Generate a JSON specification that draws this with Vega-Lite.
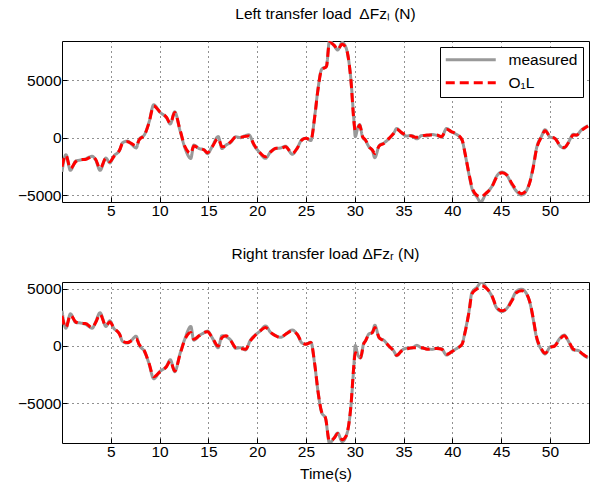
{
  "$schema": "https://vega.github.io/schema/vega-lite/v6.json",
  "padding": {"left": 5, "top": 6, "right": 2, "bottom": 4},
  "background": "white",
  "spacing": 27,
  "config": {
    "font": "Liberation Sans",
    "view": {"stroke": "black", "strokeWidth": 1},
    "axis": {
      "labelFont": "Liberation Sans",
      "labelFontSize": 15.5,
      "labelColor": "black",
      "titleFont": "Liberation Sans",
      "titleFontSize": 15.5,
      "titleFontWeight": "normal",
      "titleColor": "black",
      "domain": false,
      "ticks": true,
      "tickSize": -5,
      "tickColor": "black",
      "tickWidth": 1,
      "labelPadding": 6,
      "grid": true,
      "gridColor": "#222222",
      "gridDash": [1, 4],
      "gridWidth": 1
    },
    "title": {"font": "Liberation Sans", "fontSize": 15.5, "fontWeight": "normal", "color": "black", "anchor": "middle", "baseline": "alphabetic", "offset": 19}
  },
  "datasets": {
    "left": [
      {"t":0,"measured":-2980,"O1L":-2540},
      {"t":0.4,"measured":-1480,"O1L":-1520},
      {"t":0.86,"measured":-2850,"O1L":-2690},
      {"t":1.4,"measured":-2050,"O1L":-2100},
      {"t":1.9,"measured":-1950,"O1L":-1900},
      {"t":2.4,"measured":-1850,"O1L":-1900},
      {"t":3.1,"measured":-1620,"O1L":-1660},
      {"t":3.45,"measured":-1950,"O1L":-1900},
      {"t":3.9,"measured":-2850,"O1L":-2690},
      {"t":4.5,"measured":-1780,"O1L":-1810},
      {"t":4.9,"measured":-2200,"O1L":-2100},
      {"t":5.3,"measured":-1620,"O1L":-1660},
      {"t":5.9,"measured":-1100,"O1L":-1080},
      {"t":6.2,"measured":-450,"O1L":-500},
      {"t":6.7,"measured":-300,"O1L":-350},
      {"t":7.1,"measured":-550,"O1L":-500},
      {"t":7.6,"measured":-900,"O1L":-730},
      {"t":7.9,"measured":-150,"O1L":-200},
      {"t":8.45,"measured":260,"O1L":230},
      {"t":8.9,"measured":1300,"O1L":1260},
      {"t":9.4,"measured":2870,"O1L":2770},
      {"t":10,"measured":2250,"O1L":2280},
      {"t":10.7,"measured":1750,"O1L":1780},
      {"t":11.1,"measured":1200,"O1L":1260},
      {"t":11.55,"measured":2250,"O1L":2190},
      {"t":12.1,"measured":600,"O1L":670},
      {"t":12.6,"measured":-900,"O1L":-790},
      {"t":13.2,"measured":-1810,"O1L":-1370},
      {"t":13.5,"measured":-650,"O1L":-730},
      {"t":14.05,"measured":-950,"O1L":-930},
      {"t":14.56,"measured":-1050,"O1L":-1080},
      {"t":14.9,"measured":-1400,"O1L":-1310},
      {"t":15.4,"measured":-750,"O1L":-790},
      {"t":16.0,"measured":100,"O1L":-60},
      {"t":16.4,"measured":-950,"O1L":-790},
      {"t":16.8,"measured":-650,"O1L":-730},
      {"t":17.3,"measured":-400,"O1L":-350},
      {"t":17.8,"measured":80,"O1L":30},
      {"t":18.3,"measured":0,"O1L":30},
      {"t":18.6,"measured":120,"O1L":90},
      {"t":19.15,"measured":250,"O1L":150},
      {"t":19.7,"measured":-700,"O1L":-640},
      {"t":20.2,"measured":-1250,"O1L":-1230},
      {"t":20.85,"measured":-1800,"O1L":-1660},
      {"t":21.4,"measured":-1200,"O1L":-1230},
      {"t":21.9,"measured":-950,"O1L":-930},
      {"t":22.4,"measured":-900,"O1L":-930},
      {"t":22.9,"measured":-750,"O1L":-790},
      {"t":23.6,"measured":-1450,"O1L":-1370},
      {"t":24.1,"measured":-900,"O1L":-930},
      {"t":24.6,"measured":-150,"O1L":-200},
      {"t":25.0,"measured":-50,"O1L":-60},
      {"t":25.5,"measured":-250,"O1L":-200},
      {"t":25.9,"measured":1900,"O1L":1840},
      {"t":26.2,"measured":4050,"O1L":4000},
      {"t":26.6,"measured":5950,"O1L":5900},
      {"t":27.1,"measured":6250,"O1L":6220},
      {"t":27.4,"measured":8430,"O1L":8300},
      {"t":27.9,"measured":8000,"O1L":8050},
      {"t":28.25,"measured":7650,"O1L":7680},
      {"t":28.7,"measured":8300,"O1L":8150},
      {"t":29.1,"measured":7850,"O1L":7830},
      {"t":29.6,"measured":5100,"O1L":5050},
      {"t":29.93,"measured":1300,"O1L":1260},
      {"t":30.05,"measured":80,"O1L":600},
      {"t":30.3,"measured":850,"O1L":820},
      {"t":30.5,"measured":1150,"O1L":1110},
      {"t":30.8,"measured":50,"O1L":90},
      {"t":31.1,"measured":-250,"O1L":-200},
      {"t":31.45,"measured":-800,"O1L":-790},
      {"t":31.8,"measured":-1100,"O1L":-1080},
      {"t":32.05,"measured":-1750,"O1L":-1370},
      {"t":32.5,"measured":-700,"O1L":-730},
      {"t":33.0,"measured":-450,"O1L":-500},
      {"t":33.5,"measured":-100,"O1L":-60},
      {"t":34.0,"measured":400,"O1L":380},
      {"t":34.3,"measured":800,"O1L":730},
      {"t":34.8,"measured":400,"O1L":440},
      {"t":35.3,"measured":150,"O1L":230},
      {"t":35.8,"measured":200,"O1L":150},
      {"t":36.35,"measured":-100,"O1L":30},
      {"t":36.9,"measured":200,"O1L":150},
      {"t":37.4,"measured":150,"O1L":230},
      {"t":37.9,"measured":280,"O1L":230},
      {"t":38.4,"measured":200,"O1L":230},
      {"t":38.9,"measured":50,"O1L":90},
      {"t":39.4,"measured":800,"O1L":730},
      {"t":39.9,"measured":500,"O1L":530},
      {"t":40.3,"measured":350,"O1L":380},
      {"t":41.0,"measured":-250,"O1L":-200},
      {"t":41.3,"measured":-1400,"O1L":-1370},
      {"t":41.7,"measured":-3200,"O1L":-3130},
      {"t":42.0,"measured":-4400,"O1L":-4290},
      {"t":42.5,"measured":-5150,"O1L":-5020},
      {"t":42.9,"measured":-5610,"O1L":-5170},
      {"t":43.4,"measured":-4950,"O1L":-4880},
      {"t":44.05,"measured":-4250,"O1L":-4290},
      {"t":44.55,"measured":-3350,"O1L":-3420},
      {"t":45.1,"measured":-3000,"O1L":-3070},
      {"t":45.6,"measured":-3300,"O1L":-3270},
      {"t":46.1,"measured":-4100,"O1L":-4000},
      {"t":46.6,"measured":-4700,"O1L":-4580},
      {"t":47.1,"measured":-5000,"O1L":-4880},
      {"t":47.6,"measured":-4600,"O1L":-4580},
      {"t":47.95,"measured":-3800,"O1L":-3850},
      {"t":48.3,"measured":-2450,"O1L":-2540},
      {"t":48.6,"measured":-1000,"O1L":-1080},
      {"t":49.15,"measured":150,"O1L":90},
      {"t":49.5,"measured":700,"O1L":610},
      {"t":50.0,"measured":50,"O1L":90},
      {"t":50.5,"measured":-50,"O1L":-60},
      {"t":51.0,"measured":-700,"O1L":-640},
      {"t":51.46,"measured":-900,"O1L":-850},
      {"t":51.9,"measured":-400,"O1L":-440},
      {"t":52.4,"measured":300,"O1L":230},
      {"t":52.7,"measured":200,"O1L":230},
      {"t":53.2,"measured":650,"O1L":610},
      {"t":53.9,"measured":1050,"O1L":1020}
    ],
    "right": [
      {"t":0,"measured":3070,"O1L":2630},
      {"t":0.4,"measured":1550,"O1L":1600},
      {"t":0.86,"measured":2800,"O1L":2690},
      {"t":1.4,"measured":2050,"O1L":2100},
      {"t":1.9,"measured":2000,"O1L":1960},
      {"t":2.4,"measured":1900,"O1L":1960},
      {"t":3.1,"measured":1550,"O1L":1600},
      {"t":3.45,"measured":2100,"O1L":2040},
      {"t":3.9,"measured":2900,"O1L":2770},
      {"t":4.5,"measured":1700,"O1L":1750},
      {"t":4.9,"measured":2200,"O1L":2100},
      {"t":5.3,"measured":1550,"O1L":1600},
      {"t":5.9,"measured":1050,"O1L":1020},
      {"t":6.2,"measured":400,"O1L":440},
      {"t":6.7,"measured":250,"O1L":290},
      {"t":7.1,"measured":480,"O1L":440},
      {"t":7.6,"measured":850,"O1L":640},
      {"t":7.9,"measured":100,"O1L":150},
      {"t":8.45,"measured":-480,"O1L":-440},
      {"t":8.9,"measured":-1500,"O1L":-1460},
      {"t":9.4,"measured":-2860,"O1L":-2690},
      {"t":10,"measured":-2250,"O1L":-2280},
      {"t":10.7,"measured":-1780,"O1L":-1810},
      {"t":11.1,"measured":-1200,"O1L":-1310},
      {"t":11.55,"measured":-2250,"O1L":-2190},
      {"t":12.1,"measured":-650,"O1L":-730},
      {"t":12.6,"measured":650,"O1L":580},
      {"t":13.2,"measured":1700,"O1L":1170},
      {"t":13.5,"measured":500,"O1L":580},
      {"t":14.05,"measured":900,"O1L":880},
      {"t":14.56,"measured":1150,"O1L":1170},
      {"t":14.9,"measured":1300,"O1L":1230},
      {"t":15.4,"measured":700,"O1L":730},
      {"t":16.0,"measured":-150,"O1L":0},
      {"t":16.4,"measured":900,"O1L":730},
      {"t":16.8,"measured":800,"O1L":880},
      {"t":17.3,"measured":500,"O1L":440},
      {"t":17.8,"measured":-200,"O1L":-150},
      {"t":18.3,"measured":-150,"O1L":-230},
      {"t":18.8,"measured":-350,"O1L":-290},
      {"t":19.3,"measured":500,"O1L":440},
      {"t":19.8,"measured":950,"O1L":930},
      {"t":20.3,"measured":1300,"O1L":1310},
      {"t":20.85,"measured":1750,"O1L":1600},
      {"t":21.4,"measured":1150,"O1L":1170},
      {"t":21.9,"measured":900,"O1L":880},
      {"t":22.4,"measured":750,"O1L":730},
      {"t":22.9,"measured":1000,"O1L":1020},
      {"t":23.6,"measured":1400,"O1L":1310},
      {"t":24.1,"measured":1000,"O1L":1020},
      {"t":24.6,"measured":250,"O1L":290},
      {"t":25.0,"measured":150,"O1L":150},
      {"t":25.5,"measured":330,"O1L":290},
      {"t":25.9,"measured":-1650,"O1L":-1610},
      {"t":26.25,"measured":-4100,"O1L":-4090},
      {"t":26.6,"measured":-5800,"O1L":-5750},
      {"t":27.0,"measured":-6300,"O1L":-6280},
      {"t":27.4,"measured":-8470,"O1L":-8300},
      {"t":27.9,"measured":-8000,"O1L":-8030},
      {"t":28.25,"measured":-7600,"O1L":-7650},
      {"t":28.7,"measured":-8350,"O1L":-8180},
      {"t":29.1,"measured":-7900,"O1L":-7880},
      {"t":29.6,"measured":-5300,"O1L":-5260},
      {"t":29.9,"measured":-1800,"O1L":-1750},
      {"t":30.05,"measured":50,"O1L":-600},
      {"t":30.3,"measured":-750,"O1L":-730},
      {"t":30.6,"measured":-1050,"O1L":-1020},
      {"t":30.9,"measured":200,"O1L":150},
      {"t":31.1,"measured":450,"O1L":440},
      {"t":31.45,"measured":1050,"O1L":1020},
      {"t":31.8,"measured":1150,"O1L":1170},
      {"t":32.05,"measured":1810,"O1L":1600},
      {"t":32.5,"measured":700,"O1L":730},
      {"t":33.0,"measured":480,"O1L":440},
      {"t":33.5,"measured":-50,"O1L":0},
      {"t":34.0,"measured":-450,"O1L":-440},
      {"t":34.3,"measured":-850,"O1L":-820},
      {"t":34.8,"measured":-400,"O1L":-440},
      {"t":35.3,"measured":-200,"O1L":-290},
      {"t":35.8,"measured":-200,"O1L":-150},
      {"t":36.35,"measured":50,"O1L":-150},
      {"t":36.9,"measured":-200,"O1L":-150},
      {"t":37.4,"measured":-250,"O1L":-290},
      {"t":37.9,"measured":-300,"O1L":-230},
      {"t":38.4,"measured":-200,"O1L":-230},
      {"t":38.9,"measured":-250,"O1L":-290},
      {"t":39.4,"measured":-800,"O1L":-730},
      {"t":39.9,"measured":-500,"O1L":-530},
      {"t":40.3,"measured":-300,"O1L":-290},
      {"t":41.0,"measured":200,"O1L":150},
      {"t":41.3,"measured":1250,"O1L":1170},
      {"t":41.7,"measured":3000,"O1L":2920},
      {"t":42.0,"measured":4650,"O1L":4530},
      {"t":42.5,"measured":5100,"O1L":4960},
      {"t":43.0,"measured":5580,"O1L":5260},
      {"t":43.5,"measured":5050,"O1L":5020},
      {"t":44.05,"measured":4350,"O1L":4380},
      {"t":44.55,"measured":3300,"O1L":3360},
      {"t":45.1,"measured":3000,"O1L":3070},
      {"t":45.6,"measured":3300,"O1L":3270},
      {"t":46.1,"measured":4050,"O1L":3940},
      {"t":46.6,"measured":4800,"O1L":4670},
      {"t":47.1,"measured":4950,"O1L":4820},
      {"t":47.6,"measured":4550,"O1L":4530},
      {"t":47.95,"measured":3750,"O1L":3800},
      {"t":48.3,"measured":2250,"O1L":2340},
      {"t":48.6,"measured":800,"O1L":880},
      {"t":49.15,"measured":-350,"O1L":-290},
      {"t":49.5,"measured":-700,"O1L":-640},
      {"t":50.0,"measured":-100,"O1L":-150},
      {"t":50.5,"measured":50,"O1L":0},
      {"t":51.0,"measured":650,"O1L":580},
      {"t":51.46,"measured":950,"O1L":880},
      {"t":51.9,"measured":400,"O1L":440},
      {"t":52.4,"measured":-350,"O1L":-290},
      {"t":52.9,"measured":-400,"O1L":-440},
      {"t":53.4,"measured":-780,"O1L":-730},
      {"t":53.9,"measured":-1050,"O1L":-1020}
    ]
  },
  "vconcat": [
    {
      "title": {"text": "Left transfer load\u2002ΔFzₗ (N)"},
      "width": 527,
      "height": 161,
      "data": {"name": "left"},
      "layer": [
        {
          "mark": {"type": "line", "strokeWidth": 3, "clip": true, "interpolate": "monotone"},
          "encoding": {
            "x": {"field": "t", "type": "quantitative", "scale": {"domain": [0, 54], "nice": false, "zero": false}, "axis": {"values": [5,10,15,20,25,30,35,40,45,50], "title": null, "format": "d"}},
            "y": {"field": "measured", "type": "quantitative", "scale": {"domain": [-5610, 8430], "nice": false, "zero": false}, "axis": {"values": [-5000, 0, 5000], "title": null, "format": "d", "minExtent": 56, "maxExtent": 56}},
            "color": {"datum": "measured", "scale": {"domain": ["measured", "O1L"], "range": ["#999999", "#ff0000"]}, "legend": {"title": null, "orient": "top-right", "offset": 6, "symbolType": "M-5,0H5", "symbolSize": 100, "symbolOffset": 18, "symbolStrokeWidth": 3, "labelFontSize": 15.5, "labelFont": "Liberation Sans", "labelColor": "black", "strokeColor": "black", "fillColor": "white", "padding": 5, "rowPadding": 6, "labelOffset": 30, "labelExpr": "datum.label == 'O1L' ? 'O₁L' : datum.label"}},
            "strokeDash": {"datum": "measured", "scale": {"domain": ["measured", "O1L"], "range": [[1, 0], [9, 5]]}, "legend": {"title": null, "orient": "top-right", "offset": 6, "symbolType": "M-5,0H5", "symbolSize": 100, "symbolOffset": 18, "symbolStrokeWidth": 3, "labelFontSize": 15.5, "labelFont": "Liberation Sans", "labelColor": "black", "strokeColor": "black", "fillColor": "white", "padding": 5, "rowPadding": 6, "labelOffset": 30, "labelExpr": "datum.label == 'O1L' ? 'O₁L' : datum.label"}}
          }
        },
        {
          "mark": {"type": "line", "strokeWidth": 3, "clip": true, "interpolate": "monotone"},
          "encoding": {
            "x": {"field": "t", "type": "quantitative"},
            "y": {"field": "O1L", "type": "quantitative"},
            "color": {"datum": "O1L"},
            "strokeDash": {"datum": "O1L"}
          }
        }
      ]
    },
    {
      "title": {"text": "Right transfer load ΔFzᵣ (N)"},
      "width": 527,
      "height": 161,
      "data": {"name": "right"},
      "layer": [
        {
          "mark": {"type": "line", "strokeWidth": 3, "clip": true, "interpolate": "monotone"},
          "encoding": {
            "x": {"field": "t", "type": "quantitative", "scale": {"domain": [0, 54], "nice": false, "zero": false}, "axis": {"values": [5,10,15,20,25,30,35,40,45,50], "title": "Time(s)", "format": "d", "titlePadding": 7}},
            "y": {"field": "measured", "type": "quantitative", "scale": {"domain": [-8470, 5580], "nice": false, "zero": false}, "axis": {"values": [-5000, 0, 5000], "title": null, "format": "d", "minExtent": 56, "maxExtent": 56}},
            "color": {"datum": "measured", "scale": {"domain": ["measured", "O1L"], "range": ["#999999", "#ff0000"]}, "legend": null},
            "strokeDash": {"datum": "measured", "scale": {"domain": ["measured", "O1L"], "range": [[1, 0], [9, 5]]}, "legend": null}
          }
        },
        {
          "mark": {"type": "line", "strokeWidth": 3, "clip": true, "interpolate": "monotone"},
          "encoding": {
            "x": {"field": "t", "type": "quantitative"},
            "y": {"field": "O1L", "type": "quantitative"},
            "color": {"datum": "O1L"},
            "strokeDash": {"datum": "O1L"}
          }
        }
      ]
    }
  ],
  "resolve": {"scale": {"y": "independent", "x": "independent"}, "legend": {"color": "independent", "strokeDash": "independent"}}
}
